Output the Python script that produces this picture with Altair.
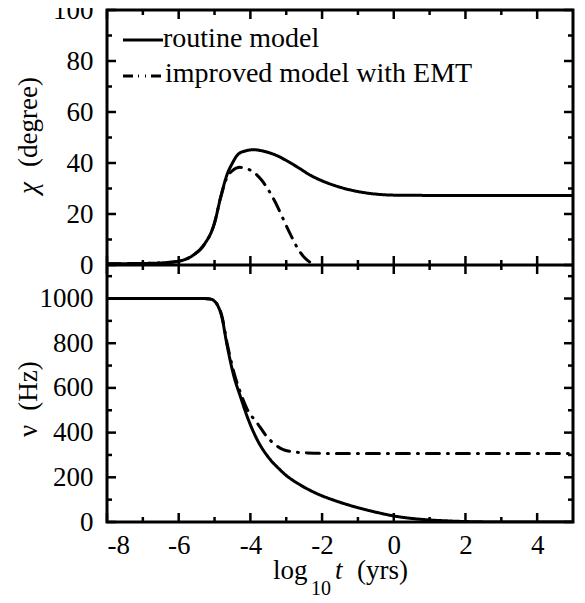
import altair as alt
import pandas as pd

# ---------------- data ----------------
series_names = ["routine model", "improved model with EMT"]

t_chi_routine = [-8, -7, -6.5, -6, -5.6, -5.3, -5.0, -4.83, -4.65, -4.5, -4.37, -4.2, -3.9,
                 -3.6, -3.2, -3.0, -2.7, -2.3, -2.0, -1.5, -1.0, -0.5, 0, 1, 5]
chi_routine = [0.5, 0.6, 0.8, 1.5, 3.8, 7.8, 16.5, 26.5, 35.5, 40, 43, 44.5, 45.2,
               44.5, 42.5, 41, 38.5, 35, 33, 30.5, 28.8, 27.8, 27.4, 27.3, 27.3]

t_chi_improved = [-8, -7, -6.5, -6, -5.6, -5.3, -5.0, -4.83, -4.65, -4.5, -4.3, -4.1, -3.9,
                  -3.7, -3.5, -3.3, -3.1, -2.9, -2.7, -2.5, -2.3, -2.15]
chi_improved = [0.5, 0.6, 0.8, 1.5, 3.8, 7.8, 16.5, 26.5, 34.5, 37, 38.3, 37.8, 36.3,
                33.5, 29.5, 24.5, 18.5, 12.5, 7, 3, 0.8, 0]

t_nu_routine = [-8, -5.3, -5.1, -5.0, -4.9, -4.8, -4.65, -4.46, -4.28, -4.09, -3.81, -3.44,
                -3.2, -3.0, -2.8, -2.6, -2.4, -2.2, -2.0, -1.7, -1.4, -1.0, -0.5, 0,
                0.5, 1.0, 1.5, 2, 3, 5]
nu_routine = [1000, 1000, 997, 988, 965, 920, 790, 652, 562, 472, 368, 278,
              238, 208, 185, 165, 147, 131, 117, 99, 83, 64, 44, 27,
              16, 9, 5, 2, 0, 0]

t_nu_improved = [-8, -5.3, -5.1, -5.0, -4.9, -4.8, -4.65, -4.46, -4.28, -4.09, -3.81, -3.54,
                 -3.3, -3.1, -2.8, -2.4, -2.0, 5]
nu_improved = [1000, 1000, 997, 988, 967, 925, 800, 670, 580, 505, 443, 382,
               345, 325, 314, 309, 307, 307]

x_major = [-8, -6, -4, -2, 0, 2, 4]
x_minor = [-7, -5, -3, -1, 1, 3]
chi_major = [0, 20, 40, 60, 80, 100]
chi_minor = [10, 30, 50, 70, 90]
nu_major = [0, 200, 400, 600, 800, 1000]
nu_minor = [100, 300, 500, 700, 900, 1100]

x_title_parts = ["log", "10", "t", "(yrs)"]
chi_title_parts = ["(degree)", "χ"]
nu_title_parts = ["(Hz)", "ν"]

# ---------------- layout ----------------
FONT = "'Liberation Serif', 'Times New Roman', Times, serif"
W = 466
H = 512
SEP = 255          # pixel row where the two panels meet
MAJ = 9
MIN = 5
TW = 2.5

DASHES = [[1, 0], [13, 8, 1, 8]]

df_chi = pd.concat([
    pd.DataFrame({"t": t_chi_routine, "v": chi_routine, "series": series_names[0]}),
    pd.DataFrame({"t": t_chi_improved, "v": chi_improved, "series": series_names[1]}),
])
df_nu = pd.concat([
    pd.DataFrame({"t": t_nu_routine, "v": nu_routine, "series": series_names[0]}),
    pd.DataFrame({"t": t_nu_improved, "v": nu_improved, "series": series_names[1]}),
])

xscale = alt.Scale(domain=[-8, 5], nice=False, zero=False)
xaxis = alt.Axis(values=x_major, orient="bottom", ticks=False, tickSize=0, domain=False,
                 grid=False, labelFont=FONT, labelFontSize=27, labelColor="black",
                 labelPadding=10, title=None, labelExpr="'' + datum.value")

chi_scale = alt.Scale(domain=[0, 100], range=[SEP, 0], nice=False, zero=False)
nu_scale = alt.Scale(domain=[0, 1150], range=[H, SEP], nice=False, zero=False)


def yaxis(vals):
    return alt.Axis(values=vals, orient="left", ticks=False, tickSize=0, domain=False,
                    grid=False, labelFont=FONT, labelFontSize=27, labelColor="black",
                    labelPadding=14, title=None, labelExpr="'' + datum.value",
                    labelOverlap=False)


chi_axis = yaxis(chi_major)
nu_axis = yaxis(nu_major)

one = pd.DataFrame({"a": [0]})


def lines(df, scale, axis):
    return alt.Chart(df).mark_line(color="black", strokeWidth=3, clip=True,
                                   interpolate="monotone", strokeCap="round").encode(
        x=alt.X("t:Q", scale=xscale, axis=xaxis),
        y=alt.Y("v:Q", scale=scale, axis=axis),
        strokeDash=alt.StrokeDash("series:N",
                                  scale=alt.Scale(domain=series_names, range=DASHES),
                                  legend=None),
        detail="series:N",
    )


def yticks(vals, scale, axis, length):
    df = pd.DataFrame({"v": vals})
    base = alt.Chart(df).mark_rule(color="black", strokeWidth=TW)
    left = base.encode(y=alt.Y("v:Q", scale=scale, axis=axis),
                       x=alt.value(0), x2=alt.value(length))
    right = base.encode(y=alt.Y("v:Q", scale=scale, axis=axis),
                        x=alt.value(W - length), x2=alt.value(W))
    return [left, right]


def xticks(vals, y0, y1):
    df = pd.DataFrame({"t": vals})
    return alt.Chart(df).mark_rule(color="black", strokeWidth=TW).encode(
        x=alt.X("t:Q", scale=xscale, axis=xaxis), y=alt.value(y0), y2=alt.value(y1))


top = alt.layer(
    lines(df_chi, chi_scale, chi_axis),
    *yticks(chi_major, chi_scale, chi_axis, MAJ),
    *yticks(chi_minor, chi_scale, chi_axis, MIN),
)
bottom = alt.layer(
    lines(df_nu, nu_scale, nu_axis),
    *yticks(nu_major, nu_scale, nu_axis, MAJ),
    *yticks(nu_minor, nu_scale, nu_axis, MIN),
)

x_tick_layers = [
    xticks(x_major, 0, MAJ), xticks(x_minor, 0, MIN),
    xticks(x_major, SEP - MAJ, SEP + MAJ), xticks(x_minor, SEP - MIN, SEP + MIN),
    xticks(x_major, H - MAJ, H), xticks(x_minor, H - MIN, H),
]

separator = alt.Chart(one).mark_rule(color="black", strokeWidth=3).encode(
    x=alt.value(0), x2=alt.value(W), y=alt.value(SEP))


def txt(s, x, y, size=27, style="normal", angle=0, align="left", baseline="alphabetic"):
    return alt.Chart(one).mark_text(font=FONT, fontSize=size, fontStyle=style, color="black",
                                    align=align, baseline=baseline, angle=angle).encode(
        x=alt.value(x), y=alt.value(y), text=alt.value(s))


legend = [
    alt.Chart(one).mark_rule(color="black", strokeWidth=3).encode(
        x=alt.value(16), x2=alt.value(56), y=alt.value(30)),
    alt.Chart(one).mark_rule(color="black", strokeWidth=3,
                             strokeDash=[10, 5, 1, 6, 1, 5, 10, 60]).encode(
        x=alt.value(16), x2=alt.value(56), y=alt.value(66)),
    txt(series_names[0], 56, 37, size=28),
    txt(series_names[1], 58, 72, size=28),
]

titles = [
    txt(x_title_parts[0], 166, 569),
    txt(x_title_parts[1], 204, 585, size=20),
    txt(x_title_parts[2], 228, 569, style="italic"),
    txt(x_title_parts[3], 250, 569),
    txt(chi_title_parts[0], -78, 112, angle=270, align="center", baseline="middle"),
    txt(chi_title_parts[1], -78, 178, style="italic", angle=270, align="center", baseline="middle"),
    txt(nu_title_parts[0], -78, 376, angle=270, align="center", baseline="middle"),
    txt(nu_title_parts[1], -78, 421, angle=270, align="center", baseline="middle"),
]

chart = alt.layer(top, bottom, *x_tick_layers, separator, *legend, *titles).resolve_scale(
    y="independent"
).properties(
    width=W, height=H,
    autosize=alt.AutoSizeParams(type="none"),
    padding={"left": 99, "top": 2, "right": 4, "bottom": 80},
).configure_view(stroke="black", strokeWidth=3)

chart.save("out.html", embed_options={"renderer": "svg", "actions": False})
